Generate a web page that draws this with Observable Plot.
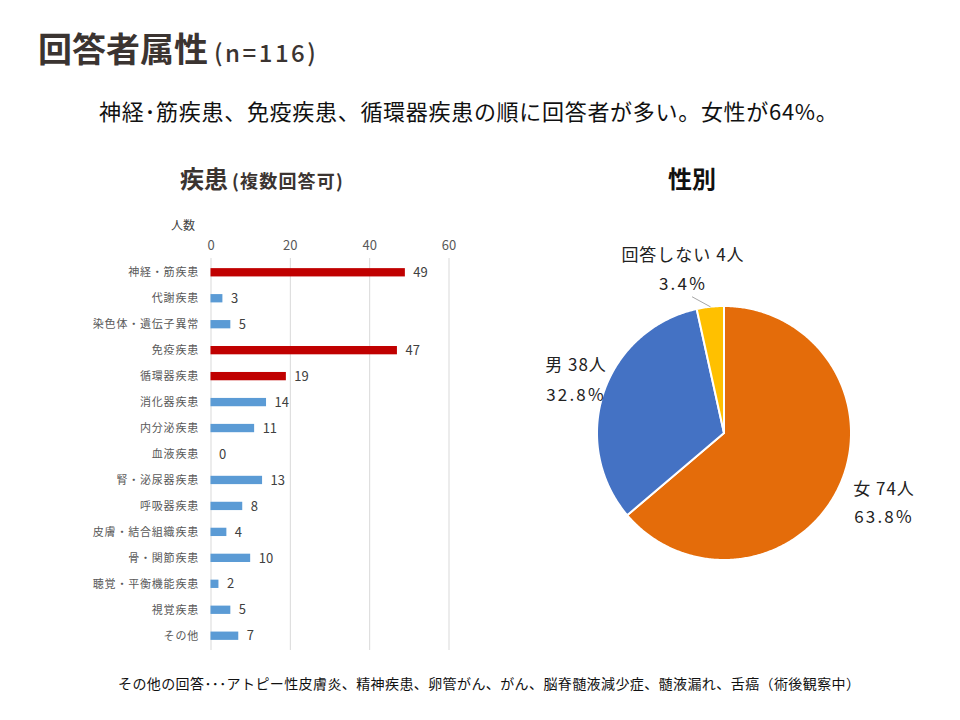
<!DOCTYPE html>
<html><head><meta charset="utf-8">
<script src="https://cdn.jsdelivr.net/npm/d3@7"></script>
<script src="https://cdn.jsdelivr.net/npm/@observablehq/plot@0.6"></script>
<style>
body{margin:0;background:#fff;width:960px;height:720px;overflow:hidden;position:relative;font-family:"Noto Sans CJK JP","Noto Sans",sans-serif;}
.t{position:absolute;white-space:nowrap;line-height:1;}
.c{transform:translate(-50%,-50%);}
.abs{position:absolute;}
</style></head><body>
<div class="t" style="left:38px;top:31px;font-size:34px;font-weight:700;color:#3b3431;">回答者属性<span style="font-size:24px;font-weight:500;margin-left:6px;letter-spacing:2.5px;">(n=116)</span></div>
<div class="t" style="left:99px;top:99px;font-size:22px;letter-spacing:0.7px;color:#111;">神経･筋疾患、免疫疾患、循環器疾患の順に回答者が多い。女性が64%。</div>
<div class="t" style="left:180px;top:166px;font-size:24px;font-weight:700;color:#3b3431;">疾患<span style="font-size:18px;margin-left:4px;letter-spacing:1.2px;">(複数回答可)</span></div>
<div class="t c" style="left:692px;top:178px;font-size:24px;font-weight:700;color:#111;">性別</div>
<div class="t c" style="left:183px;top:225px;font-size:12px;color:#404040;">人数</div>
<div class="t" style="left:118px;top:676px;font-size:14px;letter-spacing:0.4px;color:#111;">その他の回答･･･アトピー性皮膚炎、精神疾患、卵管がん、がん、脳脊髄液減少症、髄液漏れ、舌癌（術後観察中）</div>
<div id="bar" class="abs" style="left:0px;top:200px;"></div>
<div id="pie" class="abs" style="left:532.5px;top:241.5px;"></div>
<div id="pielabels"></div>
<script>
// ---- data ----
const categories = ["神経・筋疾患","代謝疾患","染色体・遺伝子異常","免疫疾患","循環器疾患","消化器疾患","内分泌疾患","血液疾患","腎・泌尿器疾患","呼吸器疾患","皮膚・結合組織疾患","骨・関節疾患","聴覚・平衡機能疾患","視覚疾患","その他"];
const counts = [49,3,5,47,19,14,11,0,13,8,4,10,2,5,7];
const highlighted = ["神経・筋疾患","免疫疾患","循環器疾患"];
const xTicks = [0,20,40,60];

const genderLabels = ["女","男","回答しない"];
const genderCounts = [74,38,4];

// ---- styles / layout ----
const FONT = '"Noto Sans CJK JP","Noto Sans",sans-serif';
const genderColors = ["#e46c0a","#4472c4","#ffc000"];
const labelCenters = [[884,487,515],[576,363,393],[683,253,282]];

// ---- bar chart ----
const rows = categories.map((c,i)=>({c, v:counts[i], hl:highlighted.includes(c)}));
const bar = Plot.plot({
  width:480, height:460,
  marginLeft:210.5, marginRight:31.5, marginTop:58, marginBottom:10,
  style:{fontFamily:FONT, fontSize:"11px", color:"#595959", background:"transparent", overflow:"visible"},
  x:{domain:[0,60], axis:"top", ticks:xTicks, tickSize:0, tickPadding:9, label:null, tickFormat:d=>String(d)},
  y:{domain:categories, paddingInner:0.68, paddingOuter:0.39, round:false, tickSize:0, tickPadding:12, label:null},
  marks:[
    Plot.ruleX(xTicks,{stroke:"#d9d9d9", strokeWidth:1}),
    Plot.barX(rows.filter(d=>!d.hl),{x:"v", y:"c", fill:"#5b9bd5"}),
    Plot.barX(rows.filter(d=>d.hl),{x:"v", y:"c", fill:"#c00000"}),
    Plot.text(rows,{x:"v", y:"c", text:d=>String(d.v), dx:8, textAnchor:"start", fontSize:13, fill:"#404040"})
  ]
});
document.getElementById("bar").appendChild(bar);
d3.select(bar).selectAll('[aria-label^="x-axis"] text').attr("font-size",13).attr("fill","#595959");
d3.select(bar).selectAll('[aria-label^="y-axis"] text').attr("fill","#595959").style("letter-spacing","0.8px");

// ---- pie chart ----
const total = d3.sum(genderCounts);
const arcs = d3.pie().sort(null).value(d=>d)(genderCounts);
const slices = arcs.map(a=>{
  const pts=[[0,0]];
  const n=Math.max(2,Math.ceil((a.endAngle-a.startAngle)/0.01));
  for(let k=0;k<=n;k++){const t=a.startAngle+(a.endAngle-a.startAngle)*k/n; pts.push([Math.sin(t),Math.cos(t)]);}
  pts.push([0,0]);
  return pts;
});
const ya = arcs[2], mid=(ya.startAngle+ya.endAngle)/2;
const leader = [[Math.sin(mid),Math.cos(mid)],[1.1*Math.sin(mid-0.12),1.1*Math.cos(mid-0.12)]];
const pie = Plot.plot({
  width:381, height:381, margin:0,
  style:{background:"transparent", overflow:"visible"},
  x:{domain:[-1.5,1.5], axis:null},
  y:{domain:[-1.5,1.5], axis:null},
  marks:[
    ...slices.map((s,i)=>Plot.line(s,{x:d=>d[0], y:d=>d[1], fill:genderColors[i], stroke:"white", strokeWidth:2, strokeLinejoin:"round"})),
    Plot.line(leader,{x:d=>d[0], y:d=>d[1], stroke:"#a6a6a6", strokeWidth:1})
  ]
});
document.getElementById("pie").appendChild(pie);

const pl = document.getElementById("pielabels");
genderLabels.forEach((g,i)=>{
  const [cx,y1,y2]=labelCenters[i];
  const a=document.createElement("div");
  a.className="t c"; a.style.cssText=`left:${cx}px;top:${y1}px;font-size:17px;letter-spacing:1px;color:#222;`;
  a.textContent=`${g} ${genderCounts[i]}人`;
  const b=document.createElement("div");
  b.className="t c"; b.style.cssText=`left:${cx}px;top:${y2}px;font-size:17px;letter-spacing:2.2px;color:#222;`;
  b.textContent=`${(genderCounts[i]/total*100).toFixed(1)}%`;
  pl.appendChild(a); pl.appendChild(b);
});
</script>
</body></html>
